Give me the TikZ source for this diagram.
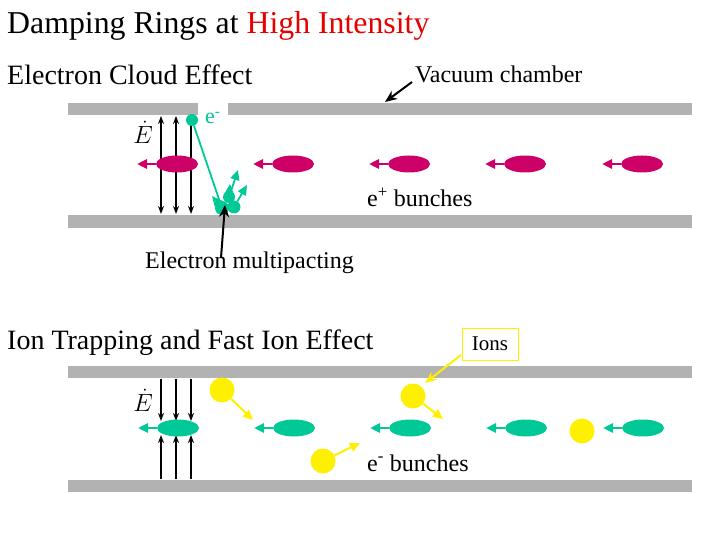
\documentclass[tikz,border=0pt]{standalone}
\usepackage{fontspec}
\setmainfont{Liberation Serif}
\usetikzlibrary{arrows.meta,shapes.geometric}
\definecolor{mag}{RGB}{204,0,102}
\definecolor{grn}{RGB}{0,200,150}
\definecolor{yel}{RGB}{255,240,0}
\definecolor{bar}{RGB}{178,178,178}
\definecolor{tred}{RGB}{230,0,0}
\tikzset{
 barst/.style={fill=bar,draw=none},
 bunch/.style={ellipse,minimum width=42pt,minimum height=17pt,inner sep=0pt},
 pull/.style={-{Triangle[length=10pt,width=9pt]},line width=2.5pt},
 field/.style={-{Stealth[length=8pt,width=6pt]},line width=1.8pt},
 lbl/.style={anchor=base west,inner sep=0pt,font=\fontsize{24}{26}\selectfont},
 pt/.style={circle,inner sep=0pt},
 pointer/.style={-{Stealth[length=12pt,width=10pt]},line width=2pt}
}
\begin{document}
\begin{tikzpicture}[x=1pt,y=-1pt]
\useasboundingbox (0,0) rectangle (720,540);
% bars
\fill[barst] (68,103) rectangle (198,115);
\fill[barst] (228,103) rectangle (692,115);
\fill[barst] (68,215) rectangle (692,228);
\fill[barst] (68,366) rectangle (692,378);
\fill[barst] (68,480) rectangle (692,492);
% titles
\node[lbl,font=\fontsize{31.8}{34}\selectfont] (title) at (7,34) {Damping Rings at \textcolor{tred}{High Intensity}};
\node[lbl,font=\fontsize{28}{30}\selectfont] (ece) at (7,85) {Electron Cloud Effect};
\node[lbl] (vc) at (415,83) {Vacuum chamber};
\node[lbl,font=\fontsize{28}{30}\selectfont] (ite) at (7,349) {Ion Trapping and Fast Ion Effect};
\node[lbl] (ep) at (367,207) {e\textsuperscript{+} bunches};
\node[lbl] (em) at (145,268) {Electron multipacting};
\node[lbl] (eb) at (367,471) {e\textsuperscript{-} bunches};
\node[draw=yel,line width=1pt,font=\fontsize{21}{23}\selectfont,minimum width=56pt,minimum height=32pt,inner sep=1pt] (ions) at (490,344) {Ions};
% E labels
\node[font=\fontsize{28}{30}\selectfont,inner sep=0pt] (E1) at (143,132) {$\dot E$};
\node[font=\fontsize{28}{30}\selectfont,inner sep=0pt] (E2) at (143,400) {$\dot E$};
% field arrows
\foreach \x in {161,176,191}{
 \coordinate (ft\x) at (\x,116); \coordinate (fb\x) at (\x,214);
 \draw[field,{Stealth[length=8pt,width=6pt]}-{Stealth[length=8pt,width=6pt]}] (ft\x) -- (fb\x);
 \coordinate (gt\x) at (\x,379); \coordinate (gm\x) at (\x,421);
 \draw[field] (gt\x) -- (gm\x);
 \coordinate (hb\x) at (\x,479); \coordinate (hm\x) at (\x,435);
 \draw[field] (hb\x) -- (hm\x);
}
% bunches
\foreach \i/\x in {1/177,2/293,3/409,4/525,5/642}{
 \node[bunch,fill=mag] (p\i) at (\x,164) {};
 \coordinate (pa\i) at (\x-40,164);
 \draw[pull,draw=mag,fill=mag] (p\i.west) -- (pa\i);
 \node[bunch,fill=grn] (n\i) at (\x+1,428) {};
 \coordinate (na\i) at (\x-39,428);
 \draw[pull,draw=grn,fill=grn] (n\i.west) -- (na\i);
}
% electron
\node[pt,fill=grn,minimum size=12pt] (e0) at (192,120) {};
\node[anchor=base west,inner sep=0pt,text=grn,font=\fontsize{22}{24}\selectfont] (elab) at (205,124) {e\textsuperscript{-}};
\node[pt,fill=grn,minimum size=14pt] (c1) at (222,208) {};
\node[pt,fill=grn,minimum size=13pt] (c2) at (234,207) {};
\node[pt,fill=grn,minimum size=12pt] (c3) at (229,197) {};
\draw[grn,line width=1.8pt] (e0) -- (c1);
\coordinate (u1) at (238,170); \coordinate (u2) at (247,185); \coordinate (u3) at (230,184);
\draw[pull,draw=grn,fill=grn,line width=1.8pt] (c3) -- (u1);
\draw[pull,draw=grn,fill=grn,line width=1.8pt] (c2) -- (u2);
\draw[pull,draw=grn,fill=grn,line width=1.8pt] (c3) -- (u3);
\draw[pull,draw=grn,fill=grn,line width=1.8pt] (c1) -- ++(-10,-12) coordinate (u4);
% ions
\node[pt,fill=yel,minimum size=25pt] (i1) at (222,390) {};
\node[pt,fill=yel,minimum size=25pt] (i2) at (413,396) {};
\node[pt,fill=yel,minimum size=25pt] (i3) at (323,461) {};
\node[pt,fill=yel,minimum size=25pt] (i4) at (582,431) {};
\coordinate (j1) at (253,420); \coordinate (j2) at (443,419); \coordinate (j3) at (360,443);
\draw[pull,draw=yel,fill=yel,line width=2pt] (i1) -- (j1);
\draw[pull,draw=yel,fill=yel,line width=2pt] (i2) -- (j2);
\draw[pull,draw=yel,fill=yel,line width=2pt] (i3) -- (j3);
% pointers
\coordinate (vct) at (385,102);
\coordinate (vcs) at (412,82);
\draw[pointer] (vcs) -- (vct);
\coordinate (emt) at (225,205);
\coordinate (ems) at (221,258);
\draw[pointer] (ems) -- (emt);
\coordinate (ionst) at (425,383);
\coordinate (ionss) at (461,355);
\draw[pointer,draw=yel,fill=yel] (ionss) -- (ionst);
\end{tikzpicture}
\end{document}
